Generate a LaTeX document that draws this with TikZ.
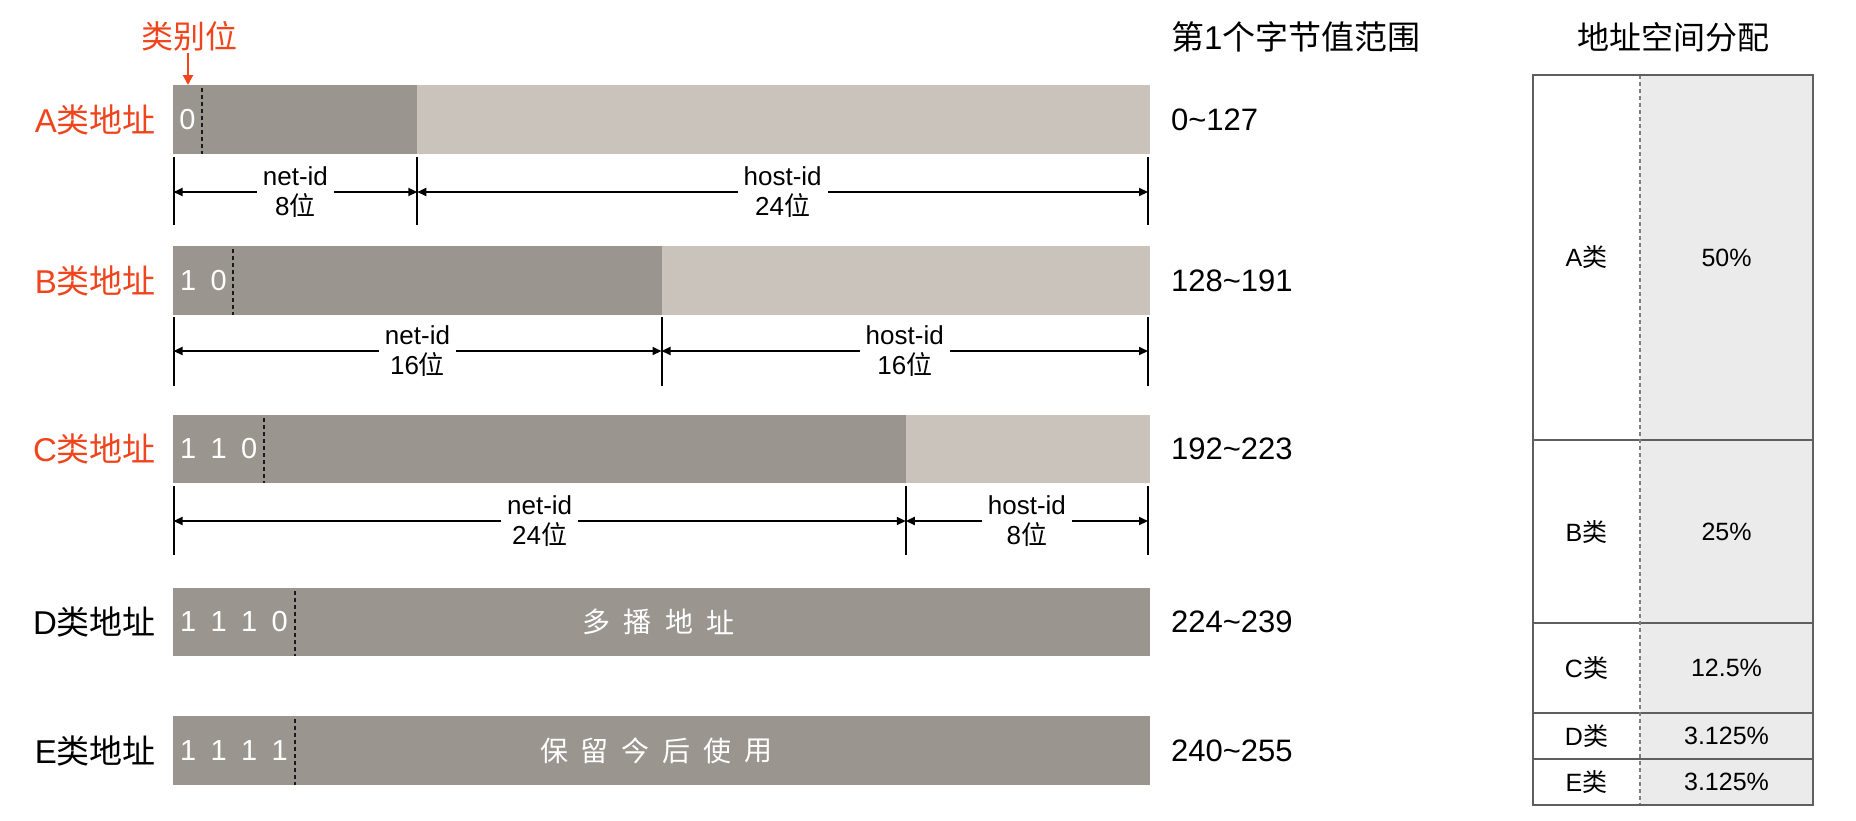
\documentclass[tikz,border=0pt]{standalone}
\usepackage{fontspec}
\setmainfont{Liberation Sans}
\newfontfamily\cjk{Noto Sans CJK SC}
\newcommand\zh[1]{{\cjk #1}}
\usetikzlibrary{arrows.meta}
\definecolor{netgray}{RGB}{154,149,143}
\definecolor{hostgray}{RGB}{201,195,187}
\definecolor{redlabel}{RGB}{240,68,28}
\definecolor{tablefill}{RGB}{235,235,235}
\definecolor{tableline}{RGB}{95,95,95}
\begin{document}
\begin{tikzpicture}[x=0.5pt,y=-0.5pt,
  netbar/.style={fill=netgray},
  hostbar/.style={fill=hostgray},
  bitsep/.style={draw=black!90, line width=1pt, dash pattern=on 2pt off 1.5pt},
  dimtick/.style={draw=black, line width=1pt},
  dimarrow/.style={draw=black, line width=1pt, {Triangle[length=4.5pt,width=4pt]}-{Triangle[length=4.5pt,width=4pt]}},
  dimlabel/.style={fill=white, align=center, inner xsep=3pt, inner ysep=0.5pt, font=\fontsize{13}{15}\selectfont},
  rowlabel/.style={anchor=east, font=\fontsize{16.5}{18}\selectfont},
  rangetext/.style={anchor=west, font=\fontsize{15.5}{18}\selectfont},
  bittext/.style={text=white, font=\fontsize{14.5}{16}\selectfont},
  bartext/.style={text=white, font=\cjk\fontsize{14}{16}\selectfont},
  header/.style={font=\cjk\fontsize{16.5}{18}\selectfont},
  celltext/.style={font=\fontsize{12.5}{14}\selectfont},
  redarrow/.style={draw=redlabel, line width=1pt, -{Triangle[length=5pt,width=5pt]}}
]
\useasboundingbox (0,0) rectangle (1856,820);
\fill[white] (0,0) rectangle (1856,820);

% headers
\node[header, anchor=west] (hrange) at (1164,37) {第{\fontspec{Liberation Sans}1}个字节值范围};
\node[header, font=\cjk\fontsize{16}{18}\selectfont] (hspace) at (1673,37) {地址空间分配};

% class bit marker
\node[text=redlabel, font=\cjk\fontsize{16}{18}\selectfont, inner sep=1pt] (catbit) at (189,36) {类别位};
\coordinate (catbittip) at (188,85);
\draw[redarrow] (catbit.south -| catbittip) -- (catbittip);

% ---------- A ----------
\fill[netbar] (173,85) rectangle (417.25,154);
\fill[hostbar] (417.25,85) rectangle (1150,154);
\draw[bitsep] (202,88) -- (202,154);
\node[bittext] (abit0) at (187.5,119.5) {0};
\node[rowlabel, text=redlabel] (alabel) at (163,119.5) {A\zh{类地址}};
\node[rangetext] (arange) at (1164,119.5) {0\textasciitilde127};
\coordinate (at1) at (173.5,157); \coordinate (ab1) at (173.5,225);
\coordinate (at2) at (417.25,157); \coordinate (ab2) at (417.25,225);
\coordinate (at3) at (1148,157); \coordinate (ab3) at (1148,225);
\draw[dimtick] (at1) -- (ab1);
\draw[dimtick] (at2) -- (ab2);
\draw[dimtick] (at3) -- (ab3);
\coordinate (am1) at (173.5,192); \coordinate (am2) at (417.25,192); \coordinate (am3) at (1148,192);
\draw[dimarrow] (am1) -- (am2) node[midway, dimlabel] (anet) {net-id\\8\zh{位}};
\draw[dimarrow] (am2) -- (am3) node[midway, dimlabel] (ahost) {host-id\\24\zh{位}};

% ---------- B ----------
\fill[netbar] (173,246) rectangle (661.5,315);
\fill[hostbar] (661.5,246) rectangle (1150,315);
\draw[bitsep] (233,249) -- (233,315);
\node[bittext] (bbit0) at (188.25,280.5) {1};
\node[bittext] (bbit1) at (218.75,280.5) {0};
\node[rowlabel, text=redlabel] (blabel) at (163,280.5) {B\zh{类地址}};
\node[rangetext] (brange) at (1164,280.5) {128\textasciitilde191};
\coordinate (bt1) at (173.5,317); \coordinate (bb1) at (173.5,386);
\coordinate (bt2) at (661.5,317); \coordinate (bb2) at (661.5,386);
\coordinate (bt3) at (1148,317); \coordinate (bb3) at (1148,386);
\draw[dimtick] (bt1) -- (bb1);
\draw[dimtick] (bt2) -- (bb2);
\draw[dimtick] (bt3) -- (bb3);
\coordinate (bm1) at (173.5,351); \coordinate (bm2) at (661.5,351); \coordinate (bm3) at (1148,351);
\draw[dimarrow] (bm1) -- (bm2) node[midway, dimlabel] (bnet) {net-id\\16\zh{位}};
\draw[dimarrow] (bm2) -- (bm3) node[midway, dimlabel] (bhost) {host-id\\16\zh{位}};

% ---------- C ----------
\fill[netbar] (173,415) rectangle (905.75,483);
\fill[hostbar] (905.75,415) rectangle (1150,483);
\draw[bitsep] (264,418) -- (264,483);
\node[bittext] (cbit0) at (188.25,449) {1};
\node[bittext] (cbit1) at (218.75,449) {1};
\node[bittext] (cbit2) at (249.25,449) {0};
\node[rowlabel, text=redlabel] (clabel) at (163,449) {C\zh{类地址}};
\node[rangetext] (crange) at (1164,449) {192\textasciitilde223};
\coordinate (ct1) at (173.5,486); \coordinate (cb1) at (173.5,555);
\coordinate (ct2) at (905.75,486); \coordinate (cb2) at (905.75,555);
\coordinate (ct3) at (1148,486); \coordinate (cb3) at (1148,555);
\draw[dimtick] (ct1) -- (cb1);
\draw[dimtick] (ct2) -- (cb2);
\draw[dimtick] (ct3) -- (cb3);
\coordinate (cm1) at (173.5,521); \coordinate (cm2) at (905.75,521); \coordinate (cm3) at (1148,521);
\draw[dimarrow] (cm1) -- (cm2) node[midway, dimlabel] (cnet) {net-id\\24\zh{位}};
\draw[dimarrow] (cm2) -- (cm3) node[midway, dimlabel] (chost) {host-id\\8\zh{位}};

% ---------- D ----------
\fill[netbar] (173,588) rectangle (1150,656);
\draw[bitsep] (295,591) -- (295,656);
\foreach \d [count=\i from 0] in {1,1,1,0}
  \node[bittext] (dbit\i) at (188.25+30.5*\i,622) {\d};
\foreach \c [count=\i from 0] in {多,播,地,址}
  \node[bartext] (dtxt\i) at (658.5+41.5*\i-62.25,622) {\c};
\node[rowlabel] (dlabel) at (163,622) {D\zh{类地址}};
\node[rangetext] (drange) at (1164,622) {224\textasciitilde239};

% ---------- E ----------
\fill[netbar] (173,716) rectangle (1150,785);
\draw[bitsep] (295,719) -- (295,785);
\foreach \d [count=\i from 0] in {1,1,1,1}
  \node[bittext] (ebit\i) at (188.25+30.5*\i,750.5) {\d};
\foreach \c [count=\i from 0] in {保,留,今,后,使,用}
  \node[bartext] (etxt\i) at (656+40.8*\i-102,750.5) {\c};
\node[rowlabel] (elabel) at (163,750.5) {E\zh{类地址}};
\node[rangetext] (erange) at (1164,750.5) {240\textasciitilde255};

% ---------- table ----------
\fill[tablefill] (1640,75) rectangle (1813,805);
\draw[tableline, line width=0.6pt] (1533,440) -- (1813,440);
\draw[tableline, line width=0.6pt] (1533,623) -- (1813,623);
\draw[tableline, line width=0.6pt] (1533,713) -- (1813,713);
\draw[tableline, line width=0.6pt] (1533,759) -- (1813,759);
\draw[tableline!80, line width=1pt, dash pattern=on 2pt off 1.5pt] (1640,75) -- (1640,805);
\draw[tableline, line width=0.9pt] (1533,75) rectangle (1813,805);
\node[celltext] (ta) at (1586.5,257.5) {A\zh{类}};
\node[celltext] (tap) at (1726.5,257.5) {50\%};
\node[celltext] (tb) at (1586.5,531.5) {B\zh{类}};
\node[celltext] (tbp) at (1726.5,531.5) {25\%};
\node[celltext] (tc) at (1586.5,668) {C\zh{类}};
\node[celltext] (tcp) at (1726.5,668) {12.5\%};
\node[celltext] (td) at (1586.5,736) {D\zh{类}};
\node[celltext] (tdp) at (1726.5,736) {3.125\%};
\node[celltext] (te) at (1586.5,782) {E\zh{类}};
\node[celltext] (tep) at (1726.5,782) {3.125\%};
\end{tikzpicture}
\end{document}
